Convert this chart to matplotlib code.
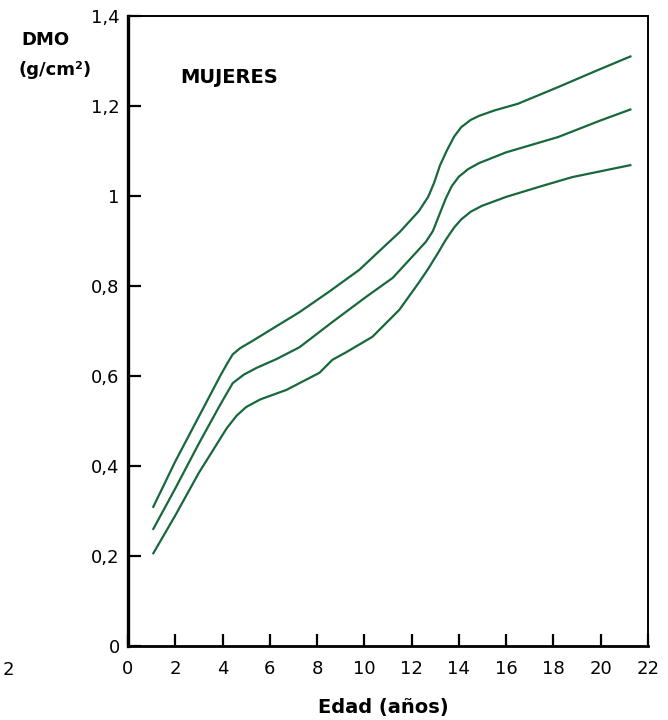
import matplotlib
matplotlib.use("Agg")
import matplotlib.pyplot as plt
from matplotlib.ticker import FuncFormatter

# edades (años) y DMO (g/cm2)
edad_sup = [1.05, 2.0, 3.0, 3.9, 4.2, 4.43, 4.75, 5.27, 6.2, 7.26, 8.5, 9.79, 10.6, 11.5, 12.3, 12.7, 12.95,
            13.2, 13.5, 13.8, 14.1, 14.5, 14.85, 15.5, 16.5, 18.2, 19.8, 21.3]
dmo_sup = [0.307, 0.41, 0.51, 0.60, 0.628, 0.648, 0.662, 0.678, 0.708, 0.742, 0.787, 0.836, 0.876, 0.92, 0.966, 0.998, 1.029,
           1.068, 1.102, 1.132, 1.153, 1.169, 1.178, 1.19, 1.205, 1.242, 1.278, 1.311]

edad_med = [1.05, 2.0, 3.0, 3.9, 4.43, 4.9, 5.44, 6.3, 7.26, 8.65, 10.08, 11.2, 12.2, 12.6, 12.9,
            13.2, 13.45, 13.7, 14.0, 14.4, 14.85, 16.0, 18.2, 20.0, 21.3]
dmo_med = [0.258, 0.35, 0.45, 0.536, 0.584, 0.603, 0.618, 0.638, 0.664, 0.72, 0.776, 0.818, 0.875, 0.898, 0.922,
           0.962, 0.995, 1.022, 1.043, 1.06, 1.073, 1.097, 1.131, 1.168, 1.193]

edad_inf = [1.05, 2.0, 3.0, 4.18, 4.6, 5.0, 5.6, 6.7, 8.1, 8.65, 9.24, 10.34, 11.48, 12.3, 12.7, 13.1,
            13.45, 13.8, 14.1, 14.5, 14.97, 16.0, 17.5, 18.8, 20.0, 21.3]
dmo_inf = [0.204, 0.29, 0.385, 0.484, 0.512, 0.531, 0.548, 0.569, 0.607, 0.636, 0.653, 0.687, 0.747, 0.807, 0.838, 0.872,
           0.903, 0.93, 0.948, 0.965, 0.978, 0.998, 1.022, 1.042, 1.055, 1.069]

xticks = list(range(0, 23, 2))
yticks = [0, 0.2, 0.4, 0.6, 0.8, 1.0, 1.2, 1.4]

verde = '#17683a'

fig = plt.figure(figsize=(6.68, 7.2), dpi=100)
ax = fig.add_axes([0.1916, 0.1028, 0.7784, 0.875])

for x, y in [(edad_sup, dmo_sup), (edad_med, dmo_med), (edad_inf, dmo_inf)]:
    ax.plot(x, y, color=verde, lw=1.6, solid_capstyle='butt', solid_joinstyle='round')

ax.set_xlim(0, 22)
ax.set_ylim(0, 1.4)
ax.set_xticks(xticks)
ax.set_yticks(yticks)

def coma(v, pos):
    s = ('%.1f' % v).rstrip('0').rstrip('.')
    return s.replace('.', ',')

ax.yaxis.set_major_formatter(FuncFormatter(coma))
ax.xaxis.set_major_formatter(FuncFormatter(lambda v, p: '%d' % v))
ax.tick_params(direction='in', length=9, width=1.6, labelsize=13, color='black')
ax.tick_params(axis='x', pad=10)
ax.tick_params(axis='y', pad=6)

ax.spines['left'].set_linewidth(2.4)
ax.spines['bottom'].set_linewidth(2.0)
ax.spines['top'].set_linewidth(1.4)
ax.spines['right'].set_linewidth(1.4)

fig.text(45 / 668, 1 - 40 / 720, 'DMO', ha='center', va='center', fontsize=13, fontweight='bold')
fig.text(55 / 668, 1 - 70 / 720, '(g/cm²)', ha='center', va='center', fontsize=13, fontweight='bold')
ax.text(2.2, 1.264, 'MUJERES', ha='left', va='center', fontsize=14, fontweight='bold')
fig.text(383 / 668, 1 - 708 / 720, 'Edad (años)', ha='center', va='center', fontsize=14, fontweight='bold')
fig.text(8 / 668, 1 - 670 / 720, '2', ha='center', va='center', fontsize=13)

fig.savefig('out.png', dpi=100)
